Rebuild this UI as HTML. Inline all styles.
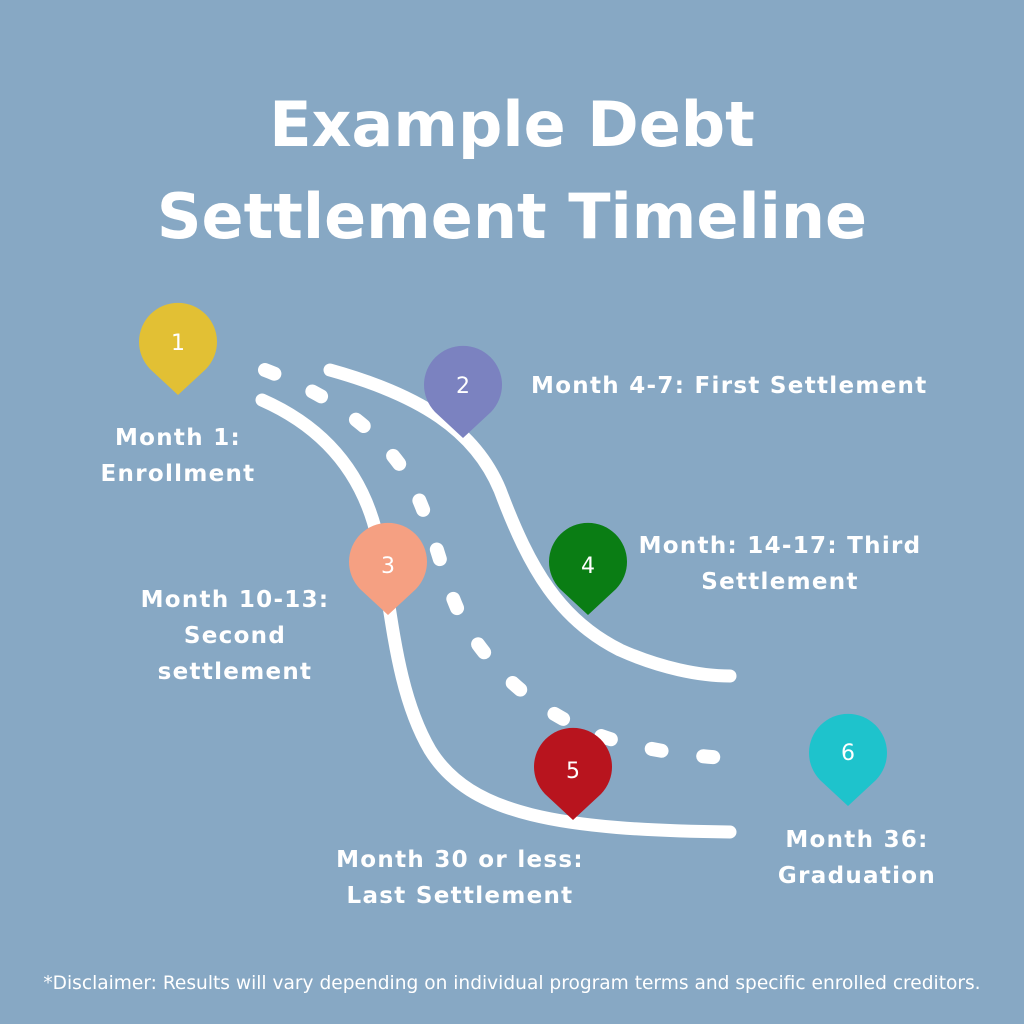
<!DOCTYPE html>
<html><head><style>
html,body{margin:0;padding:0;}
body{width:1024px;height:1024px;background:#87a8c4;position:relative;overflow:hidden;font-family:"DejaVu Sans",sans-serif;color:#fff;}
.t{position:absolute;left:0;width:1024px;text-align:center;font-weight:bold;font-size:62px;letter-spacing:0px;}
.l{position:absolute;font-weight:bold;font-size:23px;text-align:center;line-height:36px;white-space:nowrap;letter-spacing:1.3px;}
</style></head><body>
<div class="t" style="top:88px">Example Debt</div>
<div class="t" style="top:180px">Settlement Timeline</div>
<svg width="1024" height="1024" style="position:absolute;left:0;top:0">
<g fill="none" stroke="#fff" stroke-linecap="round">
<path d="M262,400 C330,430 365,480 378,540 C392,610 395,690 430,750 C470,815 560,830 730,832" stroke-width="13"/>
<path d="M330,370 C420,395 475,430 500,490 C530,570 560,620 620,650 C660,668 700,676 730,676" stroke-width="13"/>
<path d="M265,370 C330,395 380,430 410,480 C440,540 445,600 475,640 C510,690 560,725 620,742 C660,752 700,757 730,758" stroke-width="14" stroke-dasharray="10 42"/>
</g>
<g font-family="DejaVu Sans,sans-serif" font-size="22" fill="#fff" text-anchor="middle">
<path d="M178,395 L150,369 A39 39 0 1 1 206,369 Z" fill="#e2c034"/><text x="178" y="350">1</text>
<path d="M463,438 L435,412 A39 39 0 1 1 491,412 Z" fill="#7b82c0"/><text x="463" y="393">2</text>
<path d="M388,615 L360,589 A39 39 0 1 1 416,589 Z" fill="#f5a082"/><text x="388" y="573">3</text>
<path d="M588,615 L560,589 A39 39 0 1 1 616,589 Z" fill="#0a7d14"/><text x="588" y="573">4</text>
<path d="M573,820 L545,794 A39 39 0 1 1 601,794 Z" fill="#b8141e"/><text x="573" y="778">5</text>
<path d="M848,806 L820,780 A39 39 0 1 1 876,780 Z" fill="#1ec3cc"/><text x="848" y="760">6</text>
</g>
</svg>
<div class="l" style="left:68px;top:420px;width:220px">Month 1:<br>Enrollment</div>
<div class="l" style="left:531px;top:368px">Month 4-7: First Settlement</div>
<div class="l" style="left:110px;top:582px;width:250px">Month 10-13:<br>Second<br>settlement</div>
<div class="l" style="left:630px;top:528px;width:300px">Month: 14-17: Third<br>Settlement</div>
<div class="l" style="left:310px;top:842px;width:300px">Month 30 or less:<br>Last Settlement</div>
<div class="l" style="left:747px;top:822px;width:220px">Month 36:<br>Graduation</div>
<div style="position:absolute;left:0;width:1024px;top:973px;text-align:center;font-size:18.6px;white-space:nowrap;">*Disclaimer: Results will vary depending on individual program terms and specific enrolled creditors.</div>
</body></html>
